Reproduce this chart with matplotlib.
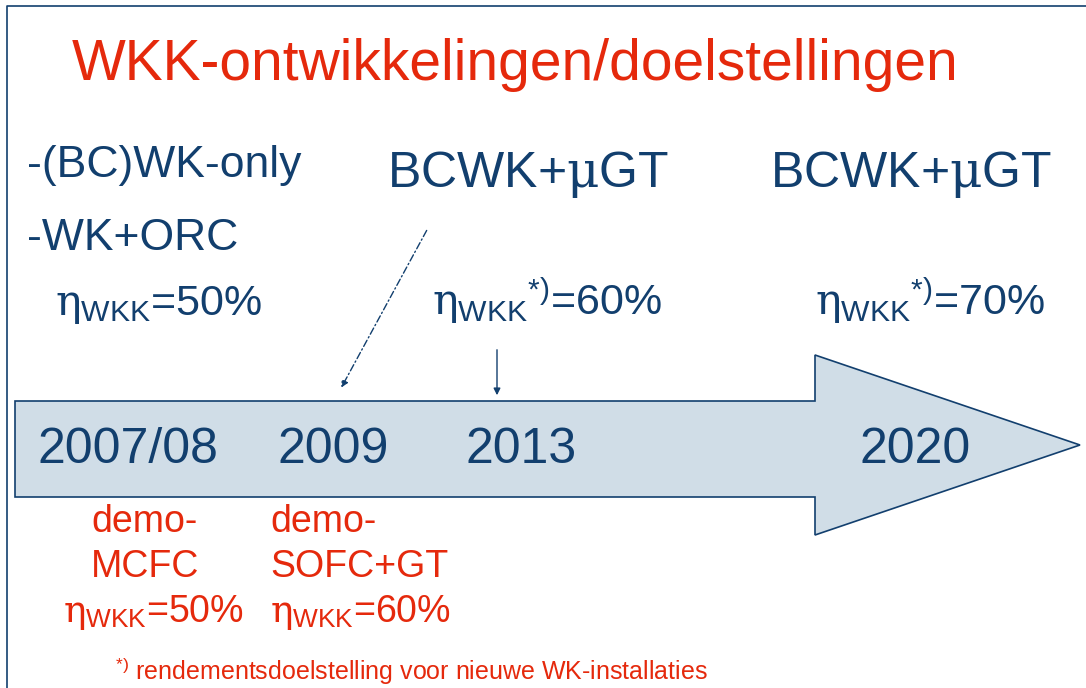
import matplotlib
matplotlib.use("Agg")
import matplotlib.pyplot as plt
from matplotlib.patches import Polygon, FancyArrowPatch

plt.rcParams['font.family'] = ['Liberation Sans', 'DejaVu Sans']
plt.rcParams['mathtext.fontset'] = 'custom'
plt.rcParams['mathtext.rm'] = 'Liberation Sans'
plt.rcParams['mathtext.it'] = 'DejaVu Serif'
plt.rcParams['mathtext.bf'] = 'Liberation Sans:bold'

BLUE = '#123f6e'
RED = '#e5290c'
FILL = '#d0dde7'

title = "WKK-ontwikkelingen/doelstellingen"
years = ["2007/08", "2009", "2013", "2020"]
year_x = [38, 278, 466, 860]
left_lines = ["-(BC)WK-only", "-WK+ORC"]
left_eta = r"$\eta_{\mathrm{WKK}}$=50%"
top_labels = [r"BCWK+$\mu$GT", r"BCWK+$\mu$GT"]
top_x = [387, 770]
top_eta = [r"${\eta_{\mathrm{WKK}}}^{\mathrm{*)}}$=60%", r"${\eta_{\mathrm{WKK}}}^{\mathrm{*)}}$=70%"]
top_eta_x = [432, 815]
demo1 = ["demo-", "MCFC", r"$\eta_{\mathrm{WKK}}$=50%"]
demo1_x = [91, 91, 63]
demo2 = ["demo-", "SOFC+GT", r"$\eta_{\mathrm{WKK}}$=60%"]
footnote = "rendementsdoelstelling voor nieuwe WK-installaties"

fig = plt.figure(figsize=(10.86, 6.88), dpi=100)
ax = fig.add_axes([0, 0, 1, 1])
ax.set_xlim(0, 1086)
ax.set_ylim(688, 0)
ax.axis('off')

# frame
ax.plot([7, 7, 1100], [700, 6, 6], color=BLUE, lw=1.2, clip_on=False)

# big arrow
arrow = Polygon([(15, 401), (815, 401), (815, 355), (1080, 445), (815, 535),
                 (815, 497), (15, 497)], closed=True, facecolor=FILL,
                edgecolor=BLUE, lw=1.2)
ax.add_patch(arrow)

ax.text(72, 80, title, color=RED, fontsize=41, va='baseline', ha='left')

for t, y in zip(left_lines, [177, 250]):
    ax.text(27, y, t, color=BLUE, fontsize=32, va='baseline', ha='left')
ax.text(55, 315, left_eta, color=BLUE, fontsize=31, va='baseline', ha='left')

for t, x in zip(top_labels, top_x):
    ax.text(x, 187, t, color=BLUE, fontsize=36, va='baseline', ha='left')
for t, x in zip(top_eta, top_eta_x):
    ax.text(x, 315, t, color=BLUE, fontsize=31, va='baseline', ha='left')

for t, x in zip(years, year_x):
    ax.text(x, 463, t, color=BLUE, fontsize=36, va='baseline', ha='left')

for i, (t, x) in enumerate(zip(demo1, demo1_x)):
    ax.text(x, 532 + i * 45, t, color=RED, fontsize=27, va='baseline', ha='left')
for i, t in enumerate(demo2):
    ax.text(270, 532 + i * 45, t, color=RED, fontsize=27, va='baseline', ha='left')

ax.text(115, 680, r"$^{\mathrm{*)}}$ " + footnote, color=RED, fontsize=18,
        va='baseline', ha='left')

# pointer arrows
a1 = FancyArrowPatch((428, 228), (340, 390), arrowstyle='-|>', mutation_scale=10,
                     color=BLUE, lw=1.0, linestyle=(0, (5, 2, 1, 2)))
ax.add_patch(a1)
a2 = FancyArrowPatch((497, 347), (497, 398), arrowstyle='-|>', mutation_scale=10,
                     color=BLUE, lw=1.0)
ax.add_patch(a2)

fig.savefig('out.png', dpi=100)
